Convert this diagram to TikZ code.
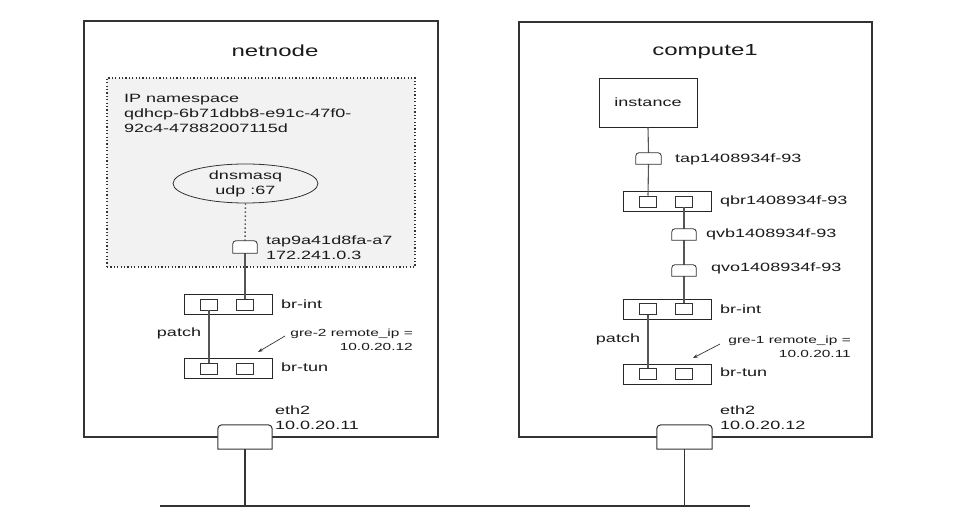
\documentclass[tikz,border=0pt]{standalone}
\usepackage{fontspec}
\setmainfont{Liberation Sans}[FakeStretch=1.5]
\usetikzlibrary{shapes.geometric,arrows.meta}
\definecolor{edge}{HTML}{333333}
\definecolor{wire}{HTML}{555555}
\definecolor{nsfill}{HTML}{F2F2F2}
\definecolor{ink}{HTML}{1A1A1A}
\tikzset{
 hostbox/.style={draw=edge, line width=1.6pt, inner sep=0},
 nsbox/.style={draw=edge, dash pattern=on 1.2pt off 2.2pt, line width=1.1pt, fill=nsfill, inner sep=0},
 bridge/.style={draw=black!85, line width=0.9pt, fill=white, minimum width=88, minimum height=20, inner sep=0},
 port/.style={draw=black!80, line width=0.8pt, fill=white, minimum width=17, minimum height=11, inner sep=0},
 tab/.style={inner sep=0, minimum width=24, minimum height=12},
 tabline/.style={draw=black!80, line width=0.8pt, fill=white},
 lbl/.style={text=ink, font=\fontsize{12}{15}\selectfont, inner sep=0},
 titletext/.style={text=ink, font=\fontsize{16}{19}\selectfont, inner sep=0},
 smalltext/.style={text=ink, font=\fontsize{10.3}{13.5}\selectfont, inner sep=0},
 wireline/.style={draw=wire, line width=1.1pt},
 dotwire/.style={draw=wire, line width=1.4pt, dash pattern=on 1.4pt off 2.6pt},
 busline/.style={draw=edge, line width=1.5pt},
 pointer/.style={draw=edge, line width=0.7pt, -{Stealth[length=5pt,width=3.5pt]}},
}
\begin{document}
\begin{tikzpicture}[x=1pt,y=-1pt]
\fill[white] (0,0) rectangle (955,532);
\useasboundingbox (0,0) rectangle (955,532);

% ---------------- netnode ----------------
\node[hostbox, minimum width=354, minimum height=416] (net) at (261,229) {};
\node[titletext] (nettitle) at (275,51) {netnode};
\node[nsbox, minimum width=308, minimum height=189] (ns) at (261,172.5) {};
\node[lbl, anchor=north west, align=left] (nslbl) at (124,94) {IP namespace\\qdhcp-6b71dbb8-e91c-47f0-\\92c4-47882007115d};
\node[draw=black!80, line width=0.8pt, ellipse, minimum width=145, minimum height=39, lbl, align=center] (dns) at (245.5,183.5) {dnsmasq\\udp :67};
\node[tab] (tapA) at (245,247) {};
\node[lbl, anchor=west, align=left] (tapAlbl) at (266,247.5) {tap9a41d8fa-a7\\172.241.0.3};
\node[bridge] (brintA) at (228,304) {};
\node[port] (brintA1) at (209,304.5) {};
\node[port] (brintA2) at (245,304.5) {};
\node[lbl, anchor=west] (brintAlbl) at (281,304) {br-int};
\node[bridge] (brtunA) at (228,368.5) {};
\node[port] (brtunA1) at (209,368.5) {};
\node[port] (brtunA2) at (245,368.5) {};
\node[lbl, anchor=west] (brtunAlbl) at (281,367) {br-tun};
\node[lbl] (patchA) at (179,333) {patch};
\node[smalltext, anchor=east, align=right] (greA) at (413,340) {gre-2 remote\_ip =\\10.0.20.12};
\coordinate (greAs) at (285,336);
\coordinate (greAe) at (258,352);
\node[tab, minimum width=54, minimum height=24] (ethA) at (245,437) {};
\node[lbl, anchor=west, align=left] (ethAlbl) at (275,417.5) {eth2\\10.0.20.11};
\coordinate (busA) at (245,506);

% ---------------- compute1 ----------------
\node[hostbox, minimum width=353, minimum height=415] (comp) at (695.5,229.5) {};
\node[titletext] (comptitle) at (705,52) {compute1};
\node[draw=black!85, line width=0.9pt, minimum width=98, minimum height=49, lbl] (inst) at (648,102.5) {instance};
\node[tab, minimum width=25, minimum height=11] (tapB) at (648.5,158.5) {};
\node[lbl, anchor=west] (tapBlbl) at (675,159) {tap1408934f-93};
\node[bridge] (qbr) at (667,201) {};
\node[port] (qbr1) at (648,201.5) {};
\node[port] (qbr2) at (684,201.5) {};
\node[lbl, anchor=west] (qbrlbl) at (720,201) {qbr1408934f-93};
\node[tab, minimum width=24, minimum height=11] (qvb) at (684,234.5) {};
\node[lbl, anchor=west] (qvblbl) at (706,234.5) {qvb1408934f-93};
\node[tab, minimum width=24, minimum height=11] (qvo) at (684,270.5) {};
\node[lbl, anchor=west] (qvolbl) at (711,268) {qvo1408934f-93};
\node[bridge] (brintB) at (667,309) {};
\node[port] (brintB1) at (648,309) {};
\node[port] (brintB2) at (684,309) {};
\node[lbl, anchor=west] (brintBlbl) at (720,309) {br-int};
\node[bridge] (brtunB) at (667,374) {};
\node[port] (brtunB1) at (648,374) {};
\node[port] (brtunB2) at (684,374) {};
\node[lbl, anchor=west] (brtunBlbl) at (720,372) {br-tun};
\node[lbl] (patchB) at (618,339) {patch};
\node[smalltext, anchor=east, align=right] (greB) at (851,347) {gre-1 remote\_ip =\\10.0.20.11};
\coordinate (greBs) at (720,344);
\coordinate (greBe) at (693,358);
\node[tab, minimum width=55, minimum height=24] (ethB) at (684.5,437) {};
\node[lbl, anchor=west, align=left] (ethBlbl) at (720,418) {eth2\\10.0.20.12};
\coordinate (busB) at (684.5,506);

\coordinate (busL) at (160,506);
\coordinate (busR) at (750,506);

% ---------------- connectors ----------------
\draw[dotwire] (dns.south) -- (tapA.north);
\draw[wireline] (tapA.south) -- (brintA2.north);
\draw[wireline] (brintA1.south) -- (brtunA1.north);
\draw[pointer] (greAs) -- (greAe);

\draw[wireline] (inst.south) -- (tapB.north);
\draw[wireline] (tapB.south) -- (qbr1.north);
\draw[wireline] (qbr2.south) -- (qvb.north);
\draw[wireline] (qvb.south) -- (qvo.north);
\draw[wireline] (qvo.south) -- (brintB2.north);
\draw[wireline] (brintB1.south) -- (brtunB1.north);
\draw[pointer] (greBs) -- (greBe);

\draw[busline] (ethA.south) -- (busA);
\draw[busline] (ethB.south) -- (busB);
\draw[busline] (busL) -- (busR);

% tab-shaped interfaces (rounded top corners)
\foreach \n in {tapA,tapB,qvb,qvo}
  \draw[tabline] (\n.south west) [rounded corners=3pt] -- (\n.north west) -- (\n.north east) [sharp corners] -- (\n.south east) -- cycle;
\foreach \n in {ethA,ethB}
  \draw[tabline, draw=edge, line width=1pt] (\n.south west) [rounded corners=4pt] -- (\n.north west) -- (\n.north east) [sharp corners] -- (\n.south east) -- cycle;
\end{tikzpicture}
\end{document}
